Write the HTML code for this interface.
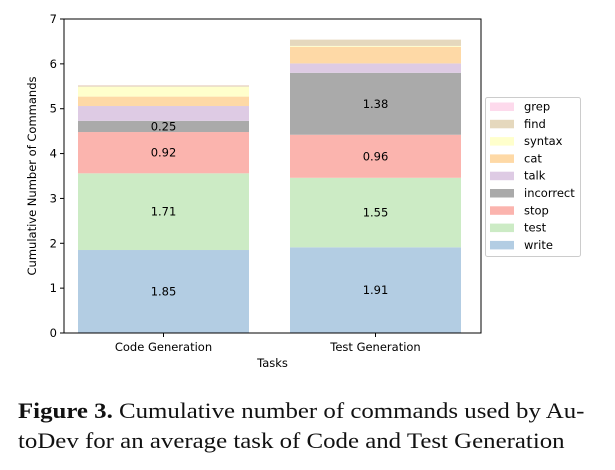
<!DOCTYPE html>
<html><head><meta charset="utf-8">
<style>
html,body{margin:0;padding:0;background:#fff;width:615px;height:470px;overflow:hidden}
svg text{font-family:"DejaVu Sans","Liberation Sans",sans-serif}
.cap{position:absolute;left:18px;top:396px;width:600px;font-family:"Liberation Serif",serif;font-size:22px;line-height:30px;color:#111;transform:scaleX(1.13);transform-origin:0 0;white-space:nowrap}
</style></head>
<body>
<svg id="chart" width="615" height="390" style="position:absolute;left:0;top:0"></svg>
<div class="cap"><b>Figure 3.</b> Cumulative number of commands used by Au-<br>toDev for an average task of Code and Test Generation</div>
<script>
const categories = ["Code Generation", "Test Generation"];
const seriesNames = ["write","test","stop","incorrect","talk","cat","syntax","find","grep"];
const write = [1.85, 1.91];
const test = [1.71, 1.55];
const stop = [0.92, 0.96];
const incorrect = [0.25, 1.38];
const talk = [0.33, 0.21];
const cat = [0.21, 0.37];
const syntax = [0.22, 0.02];
const find = [0.03, 0.14];
const grep = [0.005, 0.0];
const yTicks = [0,1,2,3,4,5,6,7];
const labeled = ["write","test","stop","incorrect"];
const colors = {write:"#b3cde3",test:"#ccebc5",stop:"#fbb4ae",incorrect:"#aaaaaa",talk:"#decbe4",cat:"#fed9a6",syntax:"#ffffcc",find:"#e5d8bd",grep:"#fddaec"};
const seriesData = {write,test,stop,incorrect,talk,cat,syntax,find,grep};

const svg = document.getElementById('chart');
const NS = "http://www.w3.org/2000/svg";
const L=64, R=481, T=19, B=333;
const y = v => B - v*(B-T)/7;
const barW = 171;
const xc = i => 163.5 + i*212;
function mk(tag, attrs){const e=document.createElementNS(NS,tag);for(const k in attrs)e.setAttribute(k,attrs[k]);svg.appendChild(e);return e;}

categories.forEach((c,i)=>{
  let base=0;
  seriesNames.forEach(s=>{
    const v=seriesData[s][i];
    const r=mk('rect',{x:xc(i)-barW/2,y:y(base+v),width:barW,height:Math.max(0,y(base)-y(base+v)),fill:colors[s]});
    
    
    if(labeled.includes(s)){
      const t=mk('text',{x:xc(i),y:y(base+v/2)+4,'text-anchor':'middle','font-size':'11.5',fill:'#000'});
      t.textContent=v.toFixed(2);
      
      
    }
    base+=v;
  });
  const tk=mk('line',{x1:xc(i),x2:xc(i),y1:B,y2:B+4,stroke:'#000','stroke-width':1});
  
  
  const tl=mk('text',{x:xc(i),y:B+18,'text-anchor':'middle','font-size':'11.5',fill:'#000'});
  tl.textContent=c;
  
  
});
yTicks.forEach(v=>{
  const tk=mk('line',{x1:L-4,x2:L,y1:y(v),y2:y(v),stroke:'#000','stroke-width':1});
  
  
  const tl=mk('text',{x:L-7,y:y(v)+4,'text-anchor':'end','font-size':'11.5',fill:'#000'});
  tl.textContent=v;
  
  
});
const frame=mk('rect',{x:L,y:T,width:R-L,height:B-T,fill:'none',stroke:'#000','stroke-width':1});


const xt=mk('text',{x:(L+R)/2,y:B+34,'text-anchor':'middle','font-size':'11.5',fill:'#000'});
xt.textContent='Tasks';


const yt=mk('text',{x:0,y:0,'text-anchor':'middle','font-size':'11.5',fill:'#000',transform:`translate(36,${(T+B)/2}) rotate(-90)`});
yt.textContent='Cumulative Number of Commands';



const lb=mk('rect',{x:485.5,y:97.5,width:95,height:159,rx:2,fill:'#fff',stroke:'#ccc','stroke-width':1});


seriesNames.slice().reverse().forEach((s,k)=>{
  const yy=106.5+k*17.3;
  const p=mk('rect',{x:490,y:yy-4,width:24,height:8.5,fill:colors[s]});
  
  
  const t=mk('text',{x:524,y:yy+4,'font-size':'11.5',fill:'#000'});
  t.textContent=s;
  
  
});
</script>
</body></html>
